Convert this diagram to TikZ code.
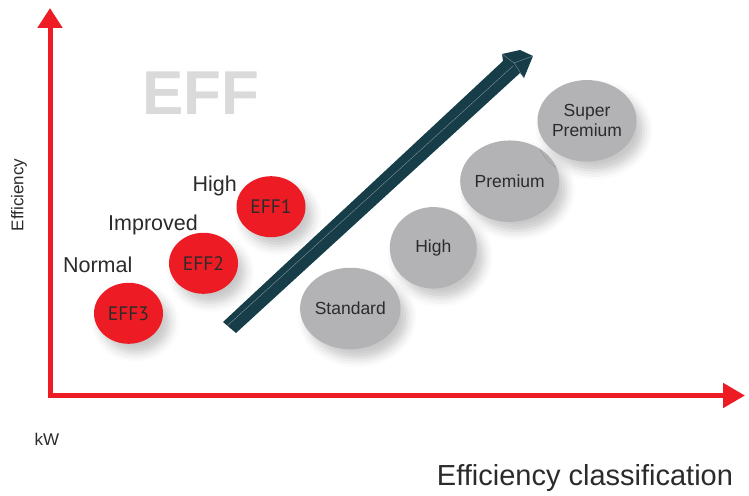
\documentclass[tikz,border=0pt]{standalone}
\usepackage{fontspec}
\setmainfont{Liberation Sans}
\newfontfamily\ptsans{PT Sans}
\usetikzlibrary{shapes.geometric,arrows.meta,shadows.blur}

\definecolor{effred}{HTML}{ED1C24}
\definecolor{iegray}{HTML}{B3B3B6}
\definecolor{arrowteal}{HTML}{173D49}
\definecolor{labeltext}{HTML}{2B2B2B}
\definecolor{wmgray}{HTML}{DADADB}

\tikzset{
	softshadow/.style={blur shadow={shadow xshift=7pt, shadow yshift=-9pt, shadow blur radius=9pt, shadow opacity=22}},
	effclass/.style={ellipse, fill=effred, minimum width=69pt, minimum height=61pt, inner sep=0pt,
		text=labeltext, font=\ptsans\fontsize{19.5}{22}\selectfont, softshadow},
	ieclass/.style={ellipse, fill=iegray, minimum width=87pt, minimum height=81.5pt, inner sep=0pt,
		align=center, text=labeltext, font=\fontsize{17.5}{20}\selectfont, softshadow},
	levellabel/.style={anchor=base, inner sep=0pt, text=labeltext, font=\fontsize{21.5}{24}\selectfont},
	axis/.style={effred, line width=5pt, line join=miter,
		{Triangle[length=20pt,width=24pt]}-{Triangle[length=22pt,width=24pt]}}
}

\begin{document}
\begin{tikzpicture}[x=1pt, y=-1pt]
			\useasboundingbox (0, 0) rectangle (749, 495);

			% axes
			\coordinate (ytip)		at (50, 8);
			\coordinate (origin)	at (50, 395.5);
			\coordinate (xtip)		at (745, 395.5);
			\draw[axis]	(ytip) -- (origin) -- (xtip);

			\node[rotate=90, inner sep=0pt, text=labeltext, font=\fontsize{17}{18}\selectfont]
				(yname) at (19, 195) {Efficiency};
			\node[anchor=base, inner sep=0pt, text=labeltext, font=\fontsize{17}{18}\selectfont]
				(unit) at (47, 445) {kW};
			\node[anchor=base, inner sep=0pt, text=labeltext, font=\fontsize{29}{32}\selectfont]
				(xname) at (585, 485) {Efficiency classification};

			% old EFF scheme
			\node[anchor=base, inner sep=0pt, text=wmgray, font=\bfseries\fontsize{62}{62}\selectfont]
				(effmark) at (201, 114) {EFF};

			\node[effclass]	(eff3) at (128.5, 313.3) {EFF3};
			\node[effclass]	(eff2) at (203.5, 263.3) {EFF2};
			\node[effclass]	(eff1) at (271, 206.7) {EFF1};

			\node[levellabel]	(normal)	at (97.7, 272.7)	{Normal};
			\node[levellabel]	(improved)	at (153, 230)		{Improved};
			\node[levellabel]	(high)		at (214.7, 191.7)	{High};

			% rising arrow
			\coordinate (tailtop)	at (223, 322);
			\coordinate (tailbot)	at (236, 333);
			\coordinate (neckup)	at (503, 61);
			\coordinate (necklow)	at (520, 73);
			\coordinate (barbup)	at (502, 54);
			\coordinate (crest)		at (520, 50);
			\coordinate (tip)		at (533, 56);
			\coordinate (barblow)	at (524, 78);
			\coordinate (fold)		at (514, 63);
			\fill[arrowteal]	(tailtop) -- (neckup) -- (barbup) -- (crest) -- (tip)
								-- (barblow) -- (necklow) -- (tailbot) -- cycle;
			\draw[arrowteal!55!white, line width=0.4pt]	(227, 326) -- (513, 66)
								(barbup) -- (fold) -- (tip)
								(fold) -- (barblow);

			% IE scheme
			\node[ieclass]	(ie1) at (350.3, 308.5)	{Standard};
			\node[ieclass]	(ie2) at (433.3, 247.8)	{High};
			\node[ieclass]	(ie3) at (509.7, 181.2)	{Premium};
			\node[ieclass]	(ie4) at (587, 120.8)	{Super\\Premium};
		\end{tikzpicture}
\end{document}
